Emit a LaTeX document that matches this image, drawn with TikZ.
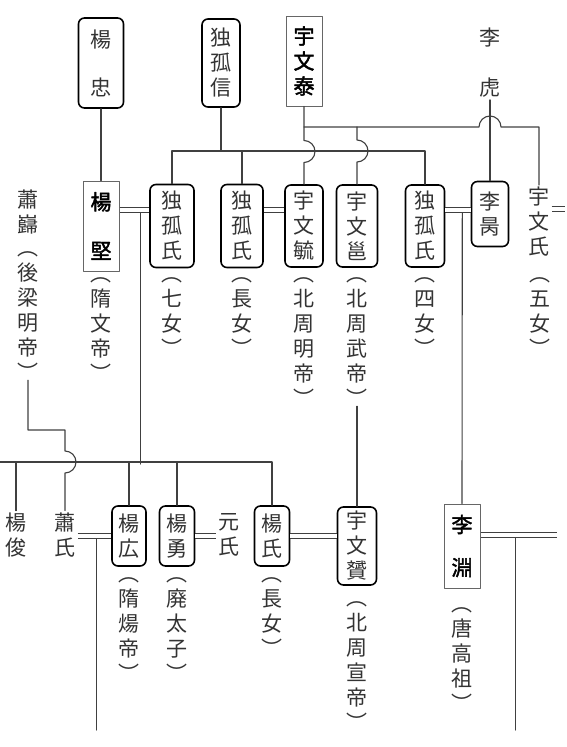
\documentclass[tikz,border=0pt]{standalone}
\usepackage{fontspec}
\setmainfont{Noto Sans CJK JP}[AutoFakeBold=2]
\begin{document}
\begin{tikzpicture}[x=1pt,y=-1pt,line join=round,line cap=round,
  font=\fontsize{21}{25}\selectfont,
  every node/.style={align=center,inner sep=2pt,text=black!80},
  kin/.style={draw=black,rounded corners=6pt,line width=1.6pt,minimum width=40pt},
  ruler/.style={draw=black!60,line width=1pt,minimum width=36pt,text=black,font=\fontsize{21}{25}\selectfont\bfseries},
  note/.style={anchor=north,inner sep=0pt},
  tie/.style={draw=black!75,double,double distance=3.4pt,line width=1pt,line cap=butt},
  link/.style={draw=black!75,line width=1.1pt}]
\useasboundingbox (0,0) rectangle (567,747);
\coordinate (tbar) at (0,127);
\coordinate (dbar) at (0,151);
\coordinate (sbar) at (0,462);
% first generation
\node[kin,minimum width=45pt,minimum height=90pt] (yangzhong) at (101,63) {楊\\[23pt]忠};
\node[kin,minimum width=38pt,minimum height=88pt] (duguxin) at (221,63) {独\\孤\\信};
\node[ruler,minimum height=90pt] (yuwentai) at (304,61) {宇\\文\\泰};
\node (lihu) at (490,63) {李\\[25pt]虎};
% second generation
\node[ruler,minimum height=90pt] (yangjian) at (101,226) {楊\\[24pt]堅};
\node[kin,minimum width=44pt,minimum height=83pt] (dugu7) at (172,226) {独\\孤\\氏};
\node[kin,minimum width=42pt,minimum height=83pt] (dugu1) at (242,226) {独\\孤\\氏};
\node[kin,minimum width=38pt,minimum height=82pt] (yuwenyu) at (304,226) {宇\\文\\毓};
\node[kin,minimum width=41pt,minimum height=82pt] (yuwenyong) at (357,226) {宇\\文\\邕};
\node[kin,minimum width=39pt,minimum height=82pt] (dugu4) at (425,226) {独\\孤\\氏};
\node[kin,minimum width=37pt,minimum height=65pt] (libing) at (490,214) {李\\昺};
\node (yuwen5) at (539,222) {宇\\文\\氏};
\node (xiaokui) at (28,212) {蕭\\巋};
\node[note] (nyangjian) at (101,277) {︵\\隋\\文\\帝\\︶};
\node[note] (ndugu7) at (172,277) {︵\\七\\女\\︶};
\node[note] (ndugu1) at (242,277) {︵\\長\\女\\︶};
\node[note] (nyuwenyu) at (304,277) {︵\\北\\周\\明\\帝\\︶};
\node[note] (nyuwenyong) at (357,277) {︵\\北\\周\\武\\帝\\︶};
\node[note] (ndugu4) at (425,277) {︵\\四\\女\\︶};
\node[note] (nyuwen5) at (540,277) {︵\\五\\女\\︶};
\node[note] (nxiaokui) at (28,251) {︵\\後\\梁\\明\\帝\\︶};
% third generation
\node (yangjun) at (16,535) {楊\\俊};
\node (xiaoshi) at (65,535) {蕭\\氏};
\node[kin,minimum width=34pt,minimum height=60pt] (yangguang) at (129,536) {楊\\広};
\node[kin,minimum width=35pt,minimum height=60pt] (yangyong) at (177,536) {楊\\勇};
\node (yuanshi) at (229,535) {元\\氏};
\node[kin,minimum width=35pt,minimum height=60pt] (yangshi) at (272,536) {楊\\氏};
\node[kin,minimum width=39pt,minimum height=78pt] (yuwenyun) at (357,546) {宇\\文\\贇};
\node[ruler,minimum height=84pt] (liyuan) at (462,546) {李\\[18pt]淵};
\node[note] (nyangguang) at (129,577) {︵\\隋\\煬\\帝\\︶};
\node[note] (nyangyong) at (177,577) {︵\\廃\\太\\子\\︶};
\node[note] (nyangshi) at (272,577) {︵\\長\\女\\︶};
\node[note] (nyuwenyun) at (357,601) {︵\\北\\周\\宣\\帝\\︶};
\node[note] (nliyuan) at (462,607) {︵\\唐\\高\\祖\\︶};
% lines of descent
\draw[link] (yangzhong.south) -- (yangjian.north);
\draw[link] (duguxin.south) -- (duguxin.south |- dbar);
\draw[link] (dugu7.north) |- (dugu4.north |- dbar) -- (dugu4.north);
\draw[link] (dugu1.north) -- (dugu1.north |- dbar);
\draw[link] (yuwentai.south) -- ++(0,34) arc[start angle=90,end angle=-90,radius=11pt] -- (yuwenyu.north);
\draw[link] (yuwentai.south |- tbar) -- ++(175,0) arc[start angle=180,end angle=0,radius=11pt] -| (yuwen5.north);
\draw[link] (yuwenyong.north |- tbar) -- ++(0,13) arc[start angle=90,end angle=-90,radius=11pt] -- (yuwenyong.north);
\draw[link] (lihu.south) -- (libing.north);
\draw[link] ([xshift=21pt,yshift=13pt]yangjian.east) -- ++(0,251);
\draw[link] ([xshift=17pt,yshift=13pt]dugu4.east) -- (liyuan.north);
\draw[link] (nyuwenyong.south) -- (yuwenyun.north);
\draw[link] (sbar) -- (yangshi.north |- sbar) -- (yangshi.north);
\draw[link] (yangjun.north |- sbar) -- (yangjun.north);
\draw[link] (yangguang.north |- sbar) -- (yangguang.north);
\draw[link] (yangyong.north |- sbar) -- (yangyong.north);
\draw[link] (nxiaokui.south) |- ([yshift=32pt]xiaoshi.north |- sbar) -- ++(0,21) arc[start angle=90,end angle=-90,radius=11pt] -- (xiaoshi.north);
\draw[link] ([xshift=-15pt,yshift=-3pt]yangguang.west) -- ++(0,191);
\draw[link] ([xshift=35pt,yshift=8pt]liyuan.east) -- ++(0,192);
% marriages
\draw[tie] ([yshift=16pt]yangjian.east) -- ([yshift=16pt]dugu7.west);
\draw[tie] ([yshift=16pt]dugu1.east) -- ([yshift=16pt]yuwenyu.west);
\draw[tie] ([yshift=16pt]dugu4.east) -- ([yshift=16pt]dugu4.east -| libing.west);
\draw[tie] ([yshift=13pt]yuwen5.east) -- ++(13,0);
\draw[tie] (xiaoshi.east |- yangguang) -- (yangguang.west);
\draw[tie] (yangyong.east) -- (yangyong.east -| yuanshi.west);
\draw[tie] (yangshi.east) -- (yangshi.east -| yuwenyun.west);
\draw[tie] ([yshift=11pt]liyuan.east) -- ++(76,0);
\end{tikzpicture}
\end{document}
